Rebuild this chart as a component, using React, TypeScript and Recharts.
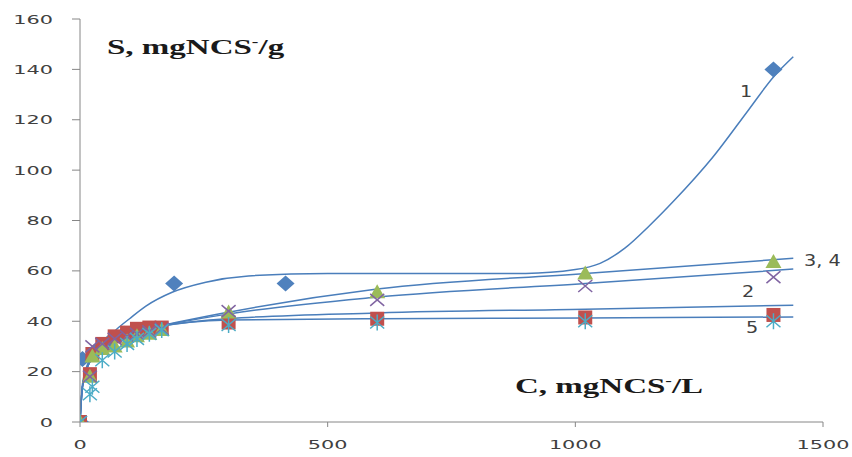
import React from "react";
import { ComposedChart, Line, Scatter, XAxis, YAxis } from "recharts";

// measured points
const c1 = [0, 5, 30, 60, 90, 120, 150, 190, 415, 1400];
const s1 = [0, 25, 28, 32, 35, 36, 37, 55, 55, 140];

const cLow = [0, 20, 25, 45, 70, 95, 115, 140, 165, 300, 600, 1020, 1400];
const s2 = [0, 19, 27, 31, 34, 35.5, 37, 37.5, 37.5, 39.5, 41, 41.5, 42.5];
const s3 = [0, 18, 26, 29, 30, 32, 34, 35, 36.5, 43.5, 51.5, 59, 63.5];
const s4 = [0, 18, 30, 31, 33, 34, 35, 36, 37, 44, 48.5, 54, 57.5];
const s5 = [0, 11, 14, 24.5, 28, 31, 33, 35, 36.5, 38.5, 39.5, 40, 40];

// fitted curves
const fitC1 = [0, 5, 20, 50, 75, 100, 133, 186, 254, 340, 500, 700, 900, 1000, 1050, 1100, 1150, 1200, 1277, 1350, 1400, 1440];
const fitS1 = [0, 15, 25, 32, 37, 41, 46, 51.5, 55.5, 58, 59, 59, 59, 60.5, 63, 69, 78, 88, 105, 124, 137, 145];

const fitC = [0, 5, 20, 50, 100, 150, 300, 600, 1020, 1440];
const fitS2 = [0, 14, 24, 30, 35, 37.5, 41, 43.3, 44.8, 46.4];
const fitS3 = [0, 14, 24, 30, 35, 37.5, 43.6, 52.8, 59, 65];
const fitS4 = [0, 14, 24, 30, 35, 37.5, 42.9, 49.6, 55, 60.7];
const fitS5 = [0, 14, 24, 30, 35, 37.5, 40.5, 41, 41.3, 41.7];

const xTicks = [0, 500, 1000, 1500];
const yTicks = [0, 20, 40, 60, 80, 100, 120, 140, 160];

const toRows = (xs: number[], ys: number[]) => xs.map((c, i) => ({ c, s: ys[i] }));

const lineColor = "#4A7EBB";
const stretch = 1.6; // the original picture is wider than tall

const Diamond = (p: any) => (
  <path d={`M${p.cx},${p.cy - 8} L${p.cx + 9},${p.cy} L${p.cx},${p.cy + 8} L${p.cx - 9},${p.cy} Z`} fill="#4F81BD" />
);
const Square = (p: any) => (
  <rect x={p.cx - 7} y={p.cy - 7} width={14} height={14} fill="#C0504D" />
);
const Triangle = (p: any) => (
  <path d={`M${p.cx},${p.cy - 8} L${p.cx + 8},${p.cy + 6} L${p.cx - 8},${p.cy + 6} Z`} fill="#9BBB59" />
);
const Cross = (p: any) => (
  <path d={`M${p.cx - 7},${p.cy - 6} L${p.cx + 7},${p.cy + 6} M${p.cx + 7},${p.cy - 6} L${p.cx - 7},${p.cy + 6}`} stroke="#8064A2" strokeWidth={1.5} />
);
const Star = (p: any) => (
  <path d={`M${p.cx - 7},${p.cy - 6} L${p.cx + 7},${p.cy + 6} M${p.cx + 7},${p.cy - 6} L${p.cx - 7},${p.cy + 6} M${p.cx},${p.cy - 8} L${p.cx},${p.cy + 8}`} stroke="#4BACC6" strokeWidth={1.5} />
);

const YTick = (p: any) => (
  <text transform={`translate(${p.x},${p.y}) scale(${stretch},1)`} textAnchor="end" dy="0.35em"
    fontFamily="DejaVu Sans" fontSize={13} fill="#404040">{p.payload.value}</text>
);
const XTick = (p: any) => (
  <text transform={`translate(${p.x},${p.y}) scale(${stretch},1)`} textAnchor="middle" dy="0.75em"
    fontFamily="DejaVu Sans" fontSize={13} fill="#404040">{p.payload.value}</text>
);

const numStyle: React.CSSProperties = {
  position: "absolute", fontFamily: "DejaVu Sans", fontSize: 16, color: "#404040",
  transform: "scaleX(1.2)", transformOrigin: "left top", whiteSpace: "nowrap",
};
const titleStyle: React.CSSProperties = {
  position: "absolute", fontFamily: "Liberation Serif", fontWeight: "bold", fontSize: 20, color: "#1a1a1a",
  transform: "scaleX(1.65)", transformOrigin: "left top", whiteSpace: "nowrap",
};

export default function App() {
  return (
    <div style={{ position: "absolute", left: 0, top: 0, width: 852, height: 457, background: "#fff" }}>
      <ComposedChart width={852} height={457} margin={{ top: 19, right: 29, left: 0, bottom: 0 }}>
        <XAxis type="number" dataKey="c" domain={[0, 1500]} ticks={xTicks} stroke="#868686" tick={XTick}
          tickSize={5} tickMargin={12} height={35} allowDataOverflow />
        <YAxis type="number" dataKey="s" domain={[0, 160]} ticks={yTicks} stroke="#868686" tick={YTick}
          tickSize={8} tickMargin={19} width={80} allowDataOverflow />
        <Line data={toRows(fitC1, fitS1)} dataKey="s" type="monotone" stroke={lineColor} strokeWidth={1.5} dot={false} isAnimationActive={false} />
        <Line data={toRows(fitC, fitS2)} dataKey="s" type="monotone" stroke={lineColor} strokeWidth={1.5} dot={false} isAnimationActive={false} />
        <Line data={toRows(fitC, fitS3)} dataKey="s" type="monotone" stroke={lineColor} strokeWidth={1.5} dot={false} isAnimationActive={false} />
        <Line data={toRows(fitC, fitS4)} dataKey="s" type="monotone" stroke={lineColor} strokeWidth={1.5} dot={false} isAnimationActive={false} />
        <Line data={toRows(fitC, fitS5)} dataKey="s" type="monotone" stroke={lineColor} strokeWidth={1.5} dot={false} isAnimationActive={false} />
        <Scatter data={toRows(c1, s1)} dataKey="s" shape={Diamond} isAnimationActive={false} />
        <Scatter data={toRows(cLow, s2)} dataKey="s" shape={Square} isAnimationActive={false} />
        <Scatter data={toRows(cLow, s3)} dataKey="s" shape={Triangle} isAnimationActive={false} />
        <Scatter data={toRows(cLow, s4)} dataKey="s" shape={Cross} isAnimationActive={false} />
        <Scatter data={toRows(cLow, s5)} dataKey="s" shape={Star} isAnimationActive={false} />
      </ComposedChart>
      <div style={{ ...titleStyle, left: 107, top: 35 }}>S, mgNCS<sup style={{ fontSize: 12 }}>-</sup>/g</div>
      <div style={{ ...titleStyle, left: 515, top: 374 }}>C, mgNCS<sup style={{ fontSize: 12 }}>-</sup>/L</div>
      <div style={{ ...numStyle, left: 740, top: 82 }}>1</div>
      <div style={{ ...numStyle, left: 804, top: 251 }}>3, 4</div>
      <div style={{ ...numStyle, left: 742, top: 282 }}>2</div>
      <div style={{ ...numStyle, left: 746, top: 318 }}>5</div>
    </div>
  );
}
